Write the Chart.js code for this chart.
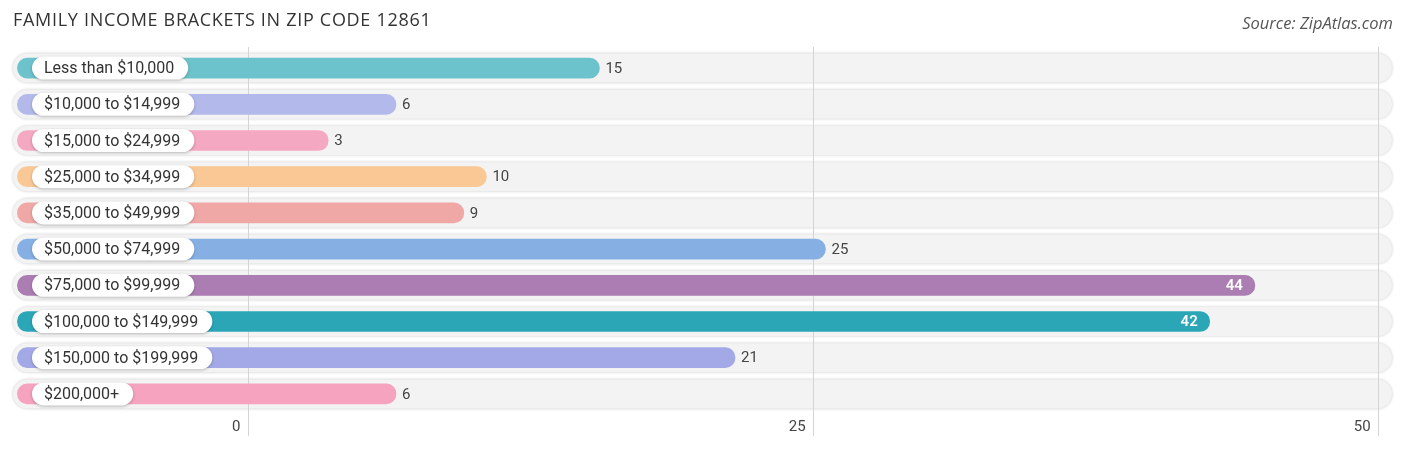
<!DOCTYPE html>
<html>
<head>
<meta charset="utf-8">
<title>Family Income Brackets in Zip Code 12861</title>
<script src="https://cdn.jsdelivr.net/npm/chart.js@4.4.1/dist/chart.umd.min.js"></script>
<style>
    html, body { margin: 0; padding: 0; background: #fff; }
    #wrap { position: relative; width: 1406px; height: 449px; }
</style>
</head>
<body>
<div id="wrap"><canvas id="chart"></canvas></div>
<script>
// Chart data
const categories = [
    'Less than $10,000',
    '$10,000 to $14,999',
    '$15,000 to $24,999',
    '$25,000 to $34,999',
    '$35,000 to $49,999',
    '$50,000 to $74,999',
    '$75,000 to $99,999',
    '$100,000 to $149,999',
    '$150,000 to $199,999',
    '$200,000+'
];
const families = [15, 6, 3, 10, 9, 25, 44, 42, 21, 6];
const barColors = [
    '#6cc3cb', '#b3b9ea', '#f5a8c2', '#f9c895', '#f0a8a6',
    '#86b0e4', '#ab7db2', '#2ba6b7', '#a2a9e6', '#f5a3bf'
];
const xTicks = [0, 25, 50];

const TITLE = 'FAMILY INCOME BRACKETS IN ZIP CODE 12861';
const SOURCE = 'Source: ZipAtlas.com';

// Axis range (the bar axis is shifted by the rounded cap of the bars)
const X_MIN = -10.44, X_MAX = 50.66;
const CAP = 0.55;
const BAR_START = -10.75;

// Draw row backgrounds, gridlines, label pills, value labels and titles
const decorPlugin = {
    id: 'decor',
    beforeDraw(chart) {
        const ctx = chart.ctx;
        const area = chart.chartArea;
        const y = chart.scales.y;
        const x = chart.scales.x;

        // Row pills
        categories.forEach((c, i) => {
            const cy = y.getPixelForValue(i);
            const h = 29;
            ctx.save();
            ctx.shadowColor = 'rgba(0,0,0,0.22)';
            ctx.shadowBlur = 3;
            ctx.shadowOffsetY = 0;
            ctx.fillStyle = '#f3f3f3';
            ctx.beginPath();
            ctx.roundRect(area.left + 1, cy - h / 2, area.right - area.left - 2, h, h / 2);
            ctx.fill();
            ctx.restore();
        });

        // Gridlines
        ctx.save();
        ctx.strokeStyle = '#d4d4d4';
        ctx.lineWidth = 1;
        xTicks.forEach(t => {
            const px = Math.round(x.getPixelForValue(t)) + 0.5;
            ctx.beginPath();
            ctx.moveTo(px, area.top - 3);
            ctx.lineTo(px, area.bottom + 24);
            ctx.stroke();
        });
        ctx.restore();
    },
    afterDatasetsDraw(chart) {
        const ctx = chart.ctx;
        const area = chart.chartArea;
        const x2 = chart.scales.x2;
        const meta = chart.getDatasetMeta(0);

        meta.data.forEach((bar, i) => {
            const cy = bar.y;
            const v = families[i];
            const endX = x2.getPixelForValue(v);

            // Category label pill
            ctx.save();
            ctx.font = '16px Roboto';
            const tw = ctx.measureText(categories[i]).width;
            const px = area.left + 20;
            const ph = 23;
            ctx.shadowColor = 'rgba(0,0,0,0.25)';
            ctx.shadowBlur = 3;
            ctx.shadowOffsetY = 1;
            ctx.fillStyle = '#ffffff';
            ctx.beginPath();
            ctx.roundRect(px, cy - ph / 2, tw + 26, ph, ph / 2);
            ctx.fill();
            ctx.restore();

            ctx.save();
            ctx.font = '16px Roboto';
            ctx.fillStyle = '#333333';
            ctx.textBaseline = 'middle';
            ctx.textAlign = 'left';
            ctx.fillText(categories[i], px + 12, cy + 1);
            ctx.restore();

            // Value label
            ctx.save();
            ctx.textBaseline = 'middle';
            if (v >= 40) {
                ctx.font = '600 15px Roboto';
                ctx.fillStyle = '#ffffff';
                ctx.textAlign = 'right';
                ctx.fillText(String(v), endX - 12, cy + 1);
            } else {
                ctx.font = '15px Roboto';
                ctx.fillStyle = '#444444';
                ctx.textAlign = 'left';
                ctx.fillText(String(v), endX + 6, cy + 1);
            }
            ctx.restore();
        });
    },
    afterDraw(chart) {
        const ctx = chart.ctx;
        ctx.save();
        ctx.textBaseline = 'middle';
        ctx.font = '18px "Open Sans"';
        ctx.letterSpacing = '0.7px';
        ctx.fillStyle = '#333333';
        ctx.textAlign = 'left';
        ctx.fillText(TITLE, 13, 21);

        ctx.letterSpacing = '0px';
        ctx.font = 'italic 16.5px "Open Sans"';
        ctx.fillStyle = '#555555';
        ctx.textAlign = 'right';
        ctx.fillText(SOURCE, 1393, 24);
        ctx.restore();
    }
};

const ctx = document.getElementById('chart').getContext('2d');
const chart = new Chart(ctx, {
    type: 'bar',
    data: {
        labels: categories,
        datasets: [{
            data: families.map(v => [BAR_START, v]),
            backgroundColor: barColors,
            borderRadius: 10,
            borderSkipped: false,
            barThickness: 20,
            xAxisID: 'x2',
            yAxisID: 'y'
        }]
    },
    options: {
        indexAxis: 'y',
        responsive: true,
        maintainAspectRatio: false,
        animation: false,
        layout: {
            padding: { top: 50, left: 12, right: 13, bottom: 7 }
        },
        plugins: {
            legend: { display: false },
            tooltip: { enabled: false },
            title: { display: false }
        },
        scales: {
            x: {
                type: 'linear',
                position: 'bottom',
                min: X_MIN,
                max: X_MAX,
                afterBuildTicks: scale => {
                    scale.ticks = xTicks.map(v => ({ value: v }));
                },
                grid: { display: false, drawTicks: false },
                border: { display: false },
                ticks: {
                    align: 'end',
                    padding: 6,
                    color: '#444444',
                    font: { family: 'Roboto', size: 15 },
                    callback: v => v + '  '
                }
            },
            x2: {
                type: 'linear',
                display: false,
                min: X_MIN - CAP,
                max: X_MAX - CAP
            },
            y: {
                type: 'category',
                display: false,
                offset: true,
                grid: { display: false }
            }
        }
    },
    plugins: [decorPlugin]
});
</script>
</body>
</html>
